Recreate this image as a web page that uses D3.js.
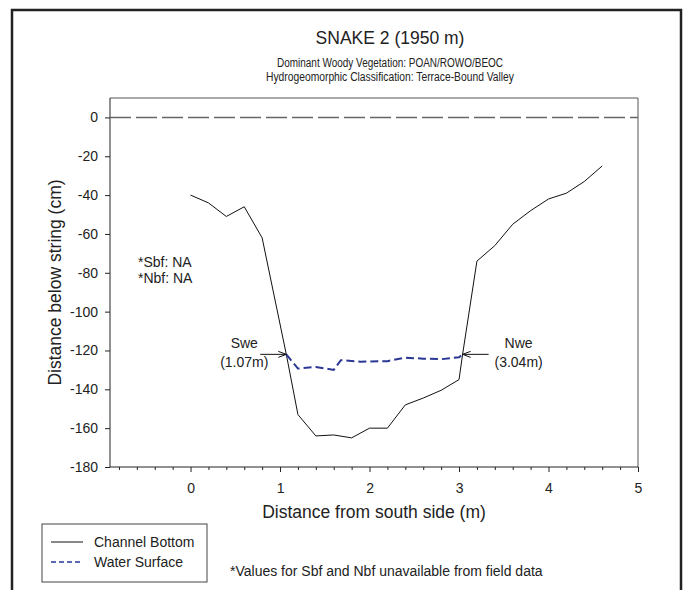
<!DOCTYPE html>
<html>
<head>
<meta charset="utf-8">
<script src="https://cdn.jsdelivr.net/npm/d3@7"></script>
<style>
  html, body { margin: 0; padding: 0; background: #fff; }
  svg { display: block; font-family: "Liberation Sans", Arial, sans-serif; }
</style>
</head>
<body>
<svg id="chart" width="691" height="590"></svg>
<script>
// ---- data ----
const bottomX = [0, 0.2, 0.4, 0.6, 0.8, 1.07, 1.2, 1.4, 1.6, 1.8, 2.0, 2.2, 2.4, 2.6, 2.8, 3.0, 3.04, 3.2, 3.4, 3.6, 3.8, 4.0, 4.2, 4.4, 4.6];
const bottomY = [-40, -44, -51, -46, -62, -122, -153, -164, -163.5, -165, -160, -160, -148, -144.5, -140.5, -135, -122, -74, -66, -55, -48, -42, -39, -33, -25];
const waterX = [1.07, 1.2, 1.4, 1.6, 1.68, 1.9, 2.2, 2.4, 2.6, 2.8, 3.0, 3.04];
const waterY = [-122, -129.3, -128.5, -130, -125, -125.8, -125.5, -123.7, -124.2, -124.5, -123.5, -122];
const stringX = [-0.9, 5];
const stringY = [0, 0];
const xMajorTicks = [0, 1, 2, 3, 4, 5];
const xMinorTicks = [-0.8, -0.6, -0.4, -0.2, 0.2, 0.4, 0.6, 0.8, 1.2, 1.4, 1.6, 1.8, 2.2, 2.4, 2.6, 2.8, 3.2, 3.4, 3.6, 3.8, 4.2, 4.4, 4.6, 4.8];
const yTicks = [0, -20, -40, -60, -80, -100, -120, -140, -160, -180];
const titleText = "SNAKE 2 (1950 m)";
const subtitleLines = ["Dominant Woody Vegetation: POAN/ROWO/BEOC", "Hydrogeomorphic Classification: Terrace-Bound Valley"];
const noteLines = ["*Sbf: NA", "*Nbf: NA"];
const seriesNames = ["Channel Bottom", "Water Surface"];
const footnote = "*Values for Sbf and Nbf unavailable from field data";
const annotations = [
  { label: "Swe", sub: "(1.07m)", x: 1.07, y: -122, side: "left" },
  { label: "Nwe", sub: "(3.04m)", x: 3.04, y: -122, side: "right" }
];

// ---- layout ----
const svg = d3.select("#chart");
const plot = { left: 110, top: 98, right: 638, bottom: 467 };
const x = d3.scaleLinear().domain([-0.9, 5]).range([plot.left, plot.right]);
const y = d3.scaleLinear().domain([-180, 10]).range([plot.bottom, plot.top]);
const textColor = "#222";
const fontFam = "Liberation Sans, Arial, sans-serif";
const fmt = d => String(d);

// outer frame
svg.append("rect").attr("x", 12).attr("y", 10).attr("width", 669).attr("height", 600)
  .attr("fill", "none").attr("stroke", "#222").attr("stroke-width", 2.5);

// titles
svg.append("text").attr("x", 390).attr("y", 44).attr("text-anchor", "middle")
  .attr("font-size", 17.5).attr("fill", textColor).text(titleText);
const subWidths = [226, 248];
subtitleLines.forEach((t, i) => {
  svg.append("text").attr("x", 390).attr("y", 67 + i * 14).attr("text-anchor", "middle")
    .attr("font-size", 12).attr("textLength", subWidths[i]).attr("lengthAdjust", "spacingAndGlyphs")
    .attr("fill", textColor).text(t);
});

// plot frame (top & right)
svg.append("path")
  .attr("d", `M${plot.left},${plot.top}H${plot.right}V${plot.bottom}`)
  .attr("fill", "none").attr("stroke", "#555").attr("stroke-width", 1);

// axes
const yAxis = d3.axisLeft(y).tickValues(yTicks).tickSize(5).tickPadding(7).tickFormat(fmt);
const gy = svg.append("g").attr("transform", `translate(${plot.left},0)`).call(yAxis);
gy.select(".domain").attr("d", `M-0,${plot.top}V${plot.bottom}`).attr("stroke", "#222");
gy.selectAll("text").attr("font-size", 14).attr("fill", textColor).attr("font-family", fontFam);
gy.selectAll("line").attr("stroke", "#222");

const xAxisMinor = d3.axisBottom(x).tickValues(xMinorTicks).tickSize(3).tickFormat("");
const gxm = svg.append("g").attr("transform", `translate(0,${plot.bottom})`).call(xAxisMinor);
gxm.select(".domain").remove();
gxm.selectAll("line").attr("stroke", "#222");

const xAxis = d3.axisBottom(x).tickValues(xMajorTicks).tickSize(5).tickPadding(11).tickFormat(fmt);
const gx = svg.append("g").attr("transform", `translate(0,${plot.bottom})`).call(xAxis);
gx.select(".domain").attr("d", `M${plot.left},0H${plot.right}`).attr("stroke", "#222");
gx.selectAll("text").attr("font-size", 14).attr("fill", textColor).attr("font-family", fontFam);
gx.selectAll("line").attr("stroke", "#222");

// axis labels
svg.append("text").attr("x", (plot.left + plot.right) / 2).attr("y", 518).attr("text-anchor", "middle")
  .attr("font-size", 17.5).attr("fill", textColor).text("Distance from south side (m)");
svg.append("text").attr("transform", `translate(61,${(plot.top + plot.bottom) / 2}) rotate(-90)`)
  .attr("text-anchor", "middle").attr("font-size", 17.5).attr("fill", textColor).text("Distance below string (cm)");

// lines
const line = d3.line().x(d => x(d[0])).y(d => y(d[1]));
const stringData = d3.zip(stringX, stringY);
svg.append("path").datum(stringData).attr("d", line).attr("fill", "none")
  .attr("stroke", "#666").attr("stroke-width", 1.5).attr("stroke-dasharray", "21,5");

const bottomData = d3.zip(bottomX, bottomY);
svg.append("path").datum(bottomData).attr("d", line).attr("fill", "none")
  .attr("stroke", "#111").attr("stroke-width", 1);

const waterData = d3.zip(waterX, waterY);
svg.append("path").datum(waterData).attr("d", line).attr("fill", "none")
  .attr("stroke", "#2a3795").attr("stroke-width", 2).attr("stroke-dasharray", "8,4");

// notes
noteLines.forEach((t, i) => {
  svg.append("text").attr("x", 138).attr("y", 267 + i * 16).attr("font-size", 14)
    .attr("fill", textColor).text(t);
});

// annotations with arrows
annotations.forEach(a => {
  const px = x(a.x), py = y(a.y);
  const dir = a.side === "left" ? -1 : 1;
  const tailX = px + dir * 26;
  svg.append("line").attr("x1", tailX).attr("y1", py).attr("x2", px).attr("y2", py)
    .attr("stroke", "#111").attr("stroke-width", 1);
  svg.append("path")
    .attr("d", `M${px + dir * 8},${py - 3}L${px},${py}L${px + dir * 8},${py + 3}`)
    .attr("fill", "none").attr("stroke", "#111").attr("stroke-width", 1);
  const tx = a.side === "left" ? px - 42 : px + 56;
  svg.append("text").attr("x", tx).attr("y", py - 6).attr("text-anchor", "middle")
    .attr("font-size", 14).attr("fill", textColor).text(a.label);
  svg.append("text").attr("x", tx).attr("y", py + 13).attr("text-anchor", "middle")
    .attr("font-size", 14).attr("fill", textColor).text(a.sub);
});

// legend
const lg = svg.append("g");
lg.append("rect").attr("x", 42).attr("y", 524).attr("width", 165).attr("height", 58)
  .attr("fill", "#fff").attr("stroke", "#444").attr("stroke-width", 1);
lg.append("line").attr("x1", 51).attr("x2", 83).attr("y1", 542).attr("y2", 542)
  .attr("stroke", "#111").attr("stroke-width", 1);
lg.append("line").attr("x1", 51).attr("x2", 83).attr("y1", 562).attr("y2", 562)
  .attr("stroke", "#2a3795").attr("stroke-width", 1.5).attr("stroke-dasharray", "5,3");
seriesNames.forEach((t, i) => {
  lg.append("text").attr("x", 94).attr("y", 547 + i * 20).attr("font-size", 14)
    .attr("fill", textColor).text(t);
});

svg.append("text").attr("x", 230).attr("y", 576).attr("font-size", 14)
  .attr("fill", textColor).text(footnote);
</script>
</body>
</html>
